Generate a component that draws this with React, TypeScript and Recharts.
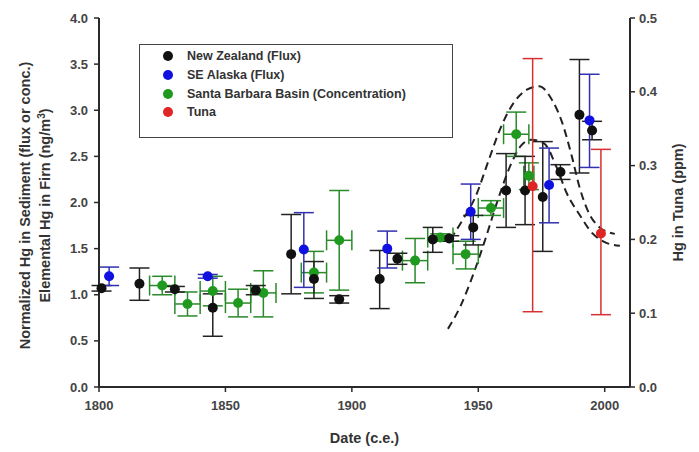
import React from "react";
import {
  ComposedChart,
  Scatter,
  Line,
  XAxis,
  YAxis,
  ErrorBar,
  Legend,
} from "recharts";

const BLACK = "#111111";
const BLUE = "#1010e0";
const GREEN = "#1f9a1f";
const RED = "#e02525";
const AXIS = "#2a2a2a";
const TEXT = "#333333";
const FONT = "'Liberation Sans', Arial, sans-serif";

const xTicks = [1800, 1850, 1900, 1950, 2000];
const leftTicks = [0, 0.5, 1, 1.5, 2, 2.5, 3, 3.5, 4];
const rightTicks = [0, 0.1, 0.2, 0.3, 0.4, 0.5];

// New Zealand (Flux): year, value, [minus, plus]
const nzYears = [1801, 1816, 1830, 1845, 1862, 1876, 1885, 1895, 1911, 1918, 1932, 1938.5, 1948, 1961, 1968.5, 1975.5, 1982.5, 1990, 1995];
const nzValues = [1.07, 1.12, 1.06, 0.86, 1.05, 1.44, 1.17, 0.95, 1.17, 1.39, 1.6, 1.61, 1.73, 2.13, 2.13, 2.06, 2.33, 2.95, 2.78];
const nzErrors = [[0.03, 0.03], [0.18, 0.17], [0.03, 0.03], [0.31, 0.15], [0.05, 0.05], [0.43, 0.43], [0.21, 0.19], [0.04, 0.04], [0.32, 0.31], [0.06, 0.06], [0.14, 0.13], [0.03, 0.03], [0.19, 0.13], [0.4, 0.4], [0.37, 0.37], [0.59, 0.6], [0.08, 0.08], [0.63, 0.6], [0.1, 0.1]];

// SE Alaska (Flux)
const akYears = [1804, 1843, 1881, 1914, 1947, 1978, 1994];
const akValues = [1.2, 1.2, 1.49, 1.5, 1.9, 2.19, 2.89];
const akErrors = [[0.1, 0.1], [0.02, 0.02], [0.41, 0.4], [0.21, 0.19], [0.3, 0.3], [0.41, 0.4], [0.51, 0.5]];

// Santa Barbara Basin (Concentration), with date error
const sbYears = [1825, 1835, 1845, 1855, 1865, 1885, 1895, 1925, 1935, 1945, 1955, 1965, 1970];
const sbValues = [1.1, 0.9, 1.04, 0.91, 1.02, 1.24, 1.59, 1.37, 1.62, 1.44, 1.94, 2.74, 2.29];
const sbErrors = [[0.1, 0.1], [0.13, 0.13], [0.16, 0.16], [0.15, 0.15], [0.26, 0.24], [0.22, 0.23], [0.54, 0.54], [0.24, 0.24], [0.04, 0.04], [0.16, 0.14], [0.08, 0.08], [0.24, 0.24], [0.15, 0.14]];
const sbDateErrors = [5, 5, 5, 5, 5, 5, 5, 5, 5, 5, 5, 5, 2];

// Tuna (ppm, right axis)
const tunaYears = [1971.5, 1998.5];
const tunaValues = [0.272, 0.208];
const tunaErrors = [[0.17, 0.173], [0.11, 0.114]];

// dashed curves
const outerYears = [1939, 1944, 1949, 1954, 1959, 1964, 1969, 1974, 1979, 1983, 1987, 1990, 1993, 1998, 2004];
const outerValues = [1.6, 1.82, 2.07, 2.45, 2.82, 3.08, 3.22, 3.26, 3.12, 2.88, 2.5, 2.17, 1.93, 1.73, 1.66];
const innerYears = [1938, 1943, 1948, 1953, 1958, 1963, 1967, 1971, 1976, 1981, 1985, 1990, 1995, 2000, 2006];
const innerValues = [0.63, 0.88, 1.22, 1.62, 2.05, 2.42, 2.62, 2.68, 2.64, 2.38, 2.1, 1.87, 1.67, 1.57, 1.53];

const nz = nzYears.map((year, i) => ({ year, v: nzValues[i], ey: nzErrors[i] }));
const ak = akYears.map((year, i) => ({ year, v: akValues[i], ey: akErrors[i] }));
const sb = sbYears.map((year, i) => ({ year, v: sbValues[i], ey: sbErrors[i], ex: sbDateErrors[i] }));
const tuna = tunaYears.map((year, i) => ({ year, v: tunaValues[i], ey: tunaErrors[i] }));
const outer = outerYears.map((year, i) => ({ year, v: outerValues[i] }));
const inner = innerYears.map((year, i) => ({ year, v: innerValues[i] }));

const legendItems = [
  { name: "New Zealand (Flux)", color: BLACK },
  { name: "SE Alaska (Flux)", color: BLUE },
  { name: "Santa Barbara Basin (Concentration)", color: GREEN },
  { name: "Tuna", color: RED },
];

const dot = (color: string) => (p: any) => <circle cx={p.cx} cy={p.cy} r={5} fill={color} />;

const tickStyle = { fontSize: 13, fontWeight: 700, fill: "#444", fontFamily: FONT };

function LegendBox() {
  return (
    <div
      style={{
        width: 312,
        height: 90,
        border: `1.5px solid #444`,
        background: "#fff",
        fontFamily: FONT,
        boxSizing: "content-box",
        paddingTop: 2,
      }}
    >
      {legendItems.map((it) => (
        <div key={it.name} style={{ display: "flex", alignItems: "center", height: 18.7, fontSize: 12.5, fontWeight: 700, color: TEXT }}>
          <span style={{ display: "inline-block", width: 10, height: 10, borderRadius: 5, background: it.color, marginLeft: 23, marginRight: 14 }} />
          {it.name}
        </div>
      ))}
    </div>
  );
}

function LeftLabel({ viewBox }: any) {
  const cy = viewBox.y + viewBox.height / 2 + 3;
  return (
    <text transform={`rotate(-90, 0, ${cy})`} x={0} y={cy} textAnchor="middle" fontFamily={FONT} fontSize={14.5} fontWeight={700} fill={TEXT}>
      <tspan x={0} dy={30}>Normalized Hg in Sediment (flux or conc.)</tspan>
      <tspan x={0} dy={20}>
        Elemental Hg in Firn (ng/m<tspan dy={-5} fontSize={10}>3</tspan>
        <tspan dy={5}>)</tspan>
      </tspan>
    </text>
  );
}

export default function App() {
  return (
    <div style={{ position: "absolute", left: 0, top: 0, background: "#fff" }}>
      <ComposedChart width={699} height={452} margin={{ top: 18, right: 0, bottom: 0, left: 0 }}>
        <XAxis
          xAxisId="bottom"
          dataKey="year"
          type="number"
          domain={[1800, 2010]}
          ticks={xTicks}
          height={65}
          tick={tickStyle}
          tickLine={{ stroke: AXIS, strokeWidth: 1.5 }}
          tickSize={5}
          tickMargin={9}
          axisLine={{ stroke: AXIS, strokeWidth: 2 }}
          label={{ value: "Date (c.e.)", position: "insideBottom", offset: 9, style: { fontSize: 14.5, fontWeight: 700, fill: TEXT, fontFamily: FONT } }}
        />
        <XAxis xAxisId="top" orientation="top" dataKey="year" type="number" domain={[1800, 2010]} height={0} tick={false} tickLine={false} axisLine={{ stroke: AXIS, strokeWidth: 2 }} />
        <YAxis
          yAxisId="left"
          dataKey="v"
          type="number"
          domain={[0, 4]}
          ticks={leftTicks}
          width={99}
          tick={tickStyle}
          tickFormatter={(v: number) => v.toFixed(1)}
          tickLine={{ stroke: AXIS, strokeWidth: 1.5 }}
          tickSize={5}
          tickMargin={6}
          axisLine={{ stroke: AXIS, strokeWidth: 2 }}
          label={<LeftLabel />}
        />
        <YAxis
          yAxisId="right"
          orientation="right"
          dataKey="v"
          type="number"
          domain={[0, 0.5]}
          ticks={rightTicks}
          width={69}
          tick={tickStyle}
          tickFormatter={(v: number) => v.toFixed(1)}
          tickLine={{ stroke: AXIS, strokeWidth: 1.5 }}
          tickSize={5}
          tickMargin={4}
          axisLine={{ stroke: AXIS, strokeWidth: 2 }}
          label={{ value: "Hg in Tuna (ppm)", angle: -90, position: "insideRight", offset: 21, style: { fontSize: 14.5, fontWeight: 700, fill: TEXT, fontFamily: FONT, textAnchor: "middle" } }}
        />
        <Legend
          content={<LegendBox />}
          layout="horizontal"
          verticalAlign="middle"
          align="center"
          wrapperStyle={{ left: 139, top: 44, width: "auto", height: "auto" }}
        />
        <Line xAxisId="bottom" yAxisId="left" data={outer} dataKey="v" type="monotone" stroke="#222" strokeWidth={2} strokeDasharray="8 5" dot={false} isAnimationActive={false} legendType="none" />
        <Line xAxisId="bottom" yAxisId="left" data={inner} dataKey="v" type="monotone" stroke="#222" strokeWidth={2} strokeDasharray="8 5" dot={false} isAnimationActive={false} legendType="none" />
        <Scatter xAxisId="bottom" yAxisId="left" name="Santa Barbara Basin (Concentration)" data={sb} dataKey="v" shape={dot(GREEN)} isAnimationActive={false}>
          <ErrorBar dataKey="ey" direction="y" width={10} stroke="#2a8a2a" strokeWidth={1.5} />
          <ErrorBar dataKey="ex" direction="x" width={10} stroke="#2a8a2a" strokeWidth={1.5} />
        </Scatter>
        <Scatter xAxisId="bottom" yAxisId="left" name="New Zealand (Flux)" data={nz} dataKey="v" shape={dot(BLACK)} isAnimationActive={false}>
          <ErrorBar dataKey="ey" direction="y" width={10} stroke="#222" strokeWidth={1.5} />
        </Scatter>
        <Scatter xAxisId="bottom" yAxisId="left" name="SE Alaska (Flux)" data={ak} dataKey="v" shape={dot(BLUE)} isAnimationActive={false}>
          <ErrorBar dataKey="ey" direction="y" width={10} stroke="#3030b0" strokeWidth={1.5} />
        </Scatter>
        <Scatter xAxisId="bottom" yAxisId="right" name="Tuna" data={tuna} dataKey="v" shape={dot(RED)} isAnimationActive={false}>
          <ErrorBar dataKey="ey" direction="y" width={10} stroke="#d83030" strokeWidth={1.5} />
        </Scatter>
      </ComposedChart>
    </div>
  );
}
